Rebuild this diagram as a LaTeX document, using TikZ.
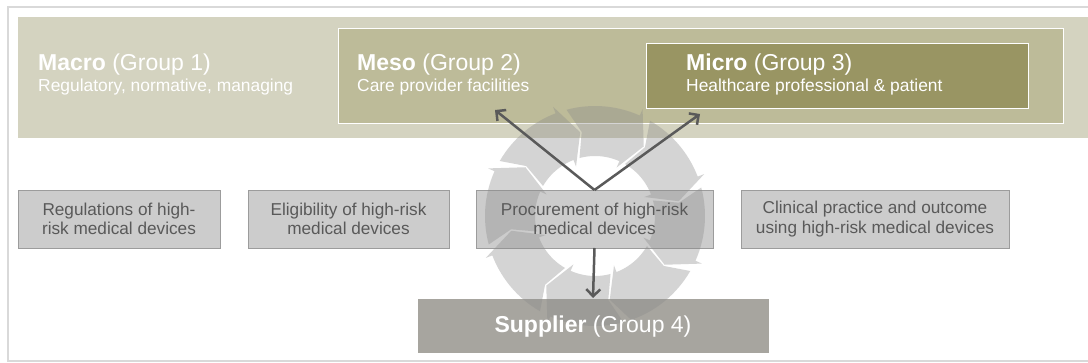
\documentclass[tikz,border=0pt]{standalone}
\usepackage{fontspec}
\setmainfont{Liberation Sans}
\usetikzlibrary{arrows.meta,shadows,calc}

\definecolor{frameC}{HTML}{D9D9D9}
\definecolor{macroC}{HTML}{D4D3C0}
\definecolor{mesoC}{HTML}{BDBB99}
\definecolor{microC}{HTML}{999563}
\definecolor{boxC}{HTML}{CCCCCC}
\definecolor{boxLine}{HTML}{9C9C9C}
\definecolor{supplierC}{HTML}{A7A59F}
\definecolor{textGray}{HTML}{595959}
\definecolor{arrowC}{HTML}{5A5A5A}
\definecolor{ringC}{HTML}{8A8A8A}

\begin{document}
\begin{tikzpicture}[x=1pt,y=-1pt,
  softshadow/.style={drop shadow={shadow xshift=1.2pt,shadow yshift=-1.5pt,opacity=0.25}},
  panel/.style={draw=white,line width=0.8pt,anchor=north west,inner sep=0pt,outer sep=0pt,softshadow},
  topicbox/.style={fill=boxC,draw=boxLine,line width=0.8pt,anchor=north west,inner sep=0pt,outer sep=0pt,softshadow},
  title/.style={anchor=base west,inner sep=0pt,text=white,font=\fontsize{23}{27}\selectfont},
  subtitle/.style={anchor=base west,inner sep=0pt,text=white,font=\fontsize{17.4}{20}\selectfont},
  topic/.style={align=center,inner sep=0pt,text=textGray,font=\fontsize{17.2}{19.5}\selectfont},
  link/.style={draw=arrowC,line width=2.5pt,-{Straight Barb[length=7pt,width=14pt]}},
  seg/.style={fill=ringC,fill opacity=0.36}
]
\useasboundingbox (0,0) rectangle (1088,363);

% page frame
\fill[white] (0,0) rectangle (1088,363);
\draw[draw=frameC,line width=1.5pt] (8,7) rectangle (1100,361);

% nested levels
\node[panel,fill=macroC,minimum width=1083pt,minimum height=122pt] (macro) at (17,16) {};
\node[panel,fill=mesoC,minimum width=725pt,minimum height=95pt] (meso) at (338,28) {};
\node[panel,fill=microC,minimum width=382pt,minimum height=65pt] (micro) at (646,43) {};

% topic boxes
\node[topicbox,minimum width=202pt,minimum height=58pt] (regs) at (18,190) {};
\node[topicbox,minimum width=201pt,minimum height=58pt] (elig) at (248,190) {};
\node[topicbox,minimum width=237pt,minimum height=58pt] (proc) at (476,190) {};
\node[topicbox,minimum width=268pt,minimum height=58pt] (clin) at (741,190) {};
\node[panel,fill=supplierC,minimum width=352pt,minimum height=55pt] (supplier) at (417,298) {};

% circular arrow made of overlapping chevron segments
\coordinate (ringc) at (595,216);
\begin{scope}[shift={(ringc)}]
  \foreach \a in {-105,-60,-15,30,75,120,165,210}{
    \pgfmathsetmacro\segB{\a+39}
    \pgfmathsetmacro\segT{\a+50}
    \pgfmathsetmacro\segN{\a+6}
    \fill[seg] (\a:110) -- plot[domain=\a:\segB,samples=16] (\x:110)
      -- (\segB:117) -- (\segT:85) -- (\segB:53)
      -- plot[domain=\segB:\a,samples=16] (\x:60)
      -- (\segN:85) -- cycle;
  }
\end{scope}

% level captions
\node[title] (macroT) at (38,71) {\textbf{Macro} (Group 1)};
\node[subtitle] (macroS) at (38,92) {Regulatory, normative, managing};
\node[title] (mesoT) at (357,71) {\textbf{Meso} (Group 2)};
\node[subtitle] (mesoS) at (357,92) {Care provider facilities};
\node[title] (microT) at (686,71) {\textbf{Micro} (Group 3)};
\node[subtitle] (microS) at (686,92) {Healthcare professional \& patient};

% topic texts
\node[topic] (regsT) at (regs.center) {Regulations of high-\\risk medical devices};
\node[topic] (eligT) at (elig.center) {Eligibility of high-risk\\medical devices};
\node[topic] (procT) at (proc.center) {Procurement of high-risk\\medical devices};
\node[topic] (clinT) at (clin.center) {Clinical practice and outcome\\using high-risk medical devices};
\node[title,anchor=base] (supplierT) at ($(supplier.center)+(0,7.5)$) {\textbf{Supplier} (Group 4)};

% connectors
\coordinate (mesotip) at (495,110);
\coordinate (microtip) at (700,114);
\draw[link] (proc.north) -- (mesotip);
\draw[link] (proc.north) -- (microtip);
\draw[link] (proc.south) -- (supplier.north);
\end{tikzpicture}
\end{document}
